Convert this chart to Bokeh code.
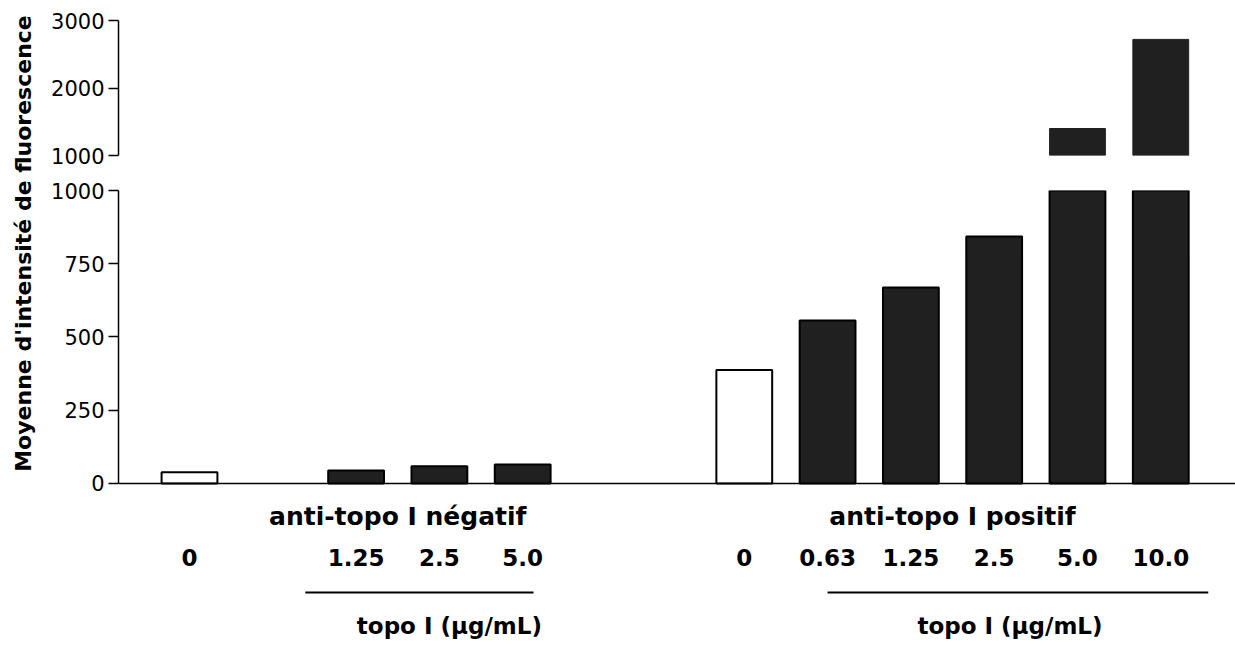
import numpy as np
from bokeh.plotting import figure
from bokeh.layouts import row, column
from bokeh.models import Range1d, FixedTicker, Span, ColumnDataSource
from bokeh.core.properties import value
from bokeh.embed import file_html
from bokeh.resources import INLINE

# ---------------- data ----------------
neg_labels = ["0", "1.25", "2.5", "5.0"]          # topo I (µg/mL), anti-topo I négatif
neg_slots = [0, 2, 3, 4]
neg_values = [38, 44, 59, 65]
pos_labels = ["0", "0.63", "1.25", "2.5", "5.0", "10.0"]  # anti-topo I positif
pos_slots = [0, 1, 2, 3, 4, 5]
pos_values = [387, 556, 669, 843, 1400, 2720]
group_names = ["anti-topo I négatif", "anti-topo I positif"]
axis_title = "Moyenne d'intensité de fluorescence"
dose_title = "topo I (μg/mL)"
lower_ticks = [0, 250, 500, 750, 1000]
upper_ticks = [1000, 2000, 3000]
BREAK = 1000

# ---------------- layout / style ----------------
FONT = "DejaVu Sans"
DARK = "#202020"
group_start = [1.0, 7.66]
bar_w = 0.67
dose_line = [(1.39, 4.13), (1.0, 5.57)]
dose_title_off = [3.12, 3.19]
GROUP_Y, NUM_Y, LINE_Y, DOSE_Y = -113, -252, -372, -485

xs, vals, labs, fills = [], [], [], []
for g, (labels, slots, values) in enumerate([(neg_labels, neg_slots, neg_values),
                                              (pos_labels, pos_slots, pos_values)]):
    for l, s, v in zip(labels, slots, values):
        xs.append(group_start[g] + s)
        vals.append(v)
        labs.append(l)
        fills.append("white" if l == "0" else DARK)
xs = np.array(xs); vals = np.array(vals, dtype=float)

x_range = Range1d(0.1477, 1 + (1235 - 189) / 83.3)


def style(p):
    p.outline_line_color = None
    p.grid.visible = False
    p.background_fill_color = "white"
    p.border_fill_color = "white"


def style_axis(ax, ticks, bounds):
    ax.ticker = FixedTicker(ticks=ticks)
    ax.bounds = bounds
    ax.minor_tick_line_color = None
    ax.major_tick_in = 0
    ax.major_tick_out = 10
    ax.major_tick_line_width = 1.5
    ax.axis_line_width = 1.5
    ax.axis_line_color = "black"
    ax.major_tick_line_color = "black"
    ax.major_label_text_font = FONT
    ax.major_label_text_font_size = "21px"
    ax.major_label_text_color = "black"
    ax.major_label_standoff = 4


# upper panel (values above the break)
up = figure(width=1197, height=167, x_range=x_range, y_range=Range1d(1000, 3000),
            output_backend="svg", toolbar_location=None, x_axis_location=None,
            min_border_left=80, min_border_right=0, min_border_top=20, min_border_bottom=12)
style(up)
style_axis(up.yaxis[0], upper_ticks, (1000, 3000))
m = vals > BREAK
up.vbar(x=xs[m], bottom=BREAK, top=vals[m], width=bar_w, fill_color=DARK, line_color=DARK)

# lower panel
lo = figure(width=1197, height=478, x_range=x_range, y_range=Range1d(-553, 1000),
            output_backend="svg", toolbar_location=None, x_axis_location=None,
            min_border_left=80, min_border_right=0, min_border_top=23, min_border_bottom=0)
style(lo)
style_axis(lo.yaxis[0], lower_ticks, (0, 1000))
src = ColumnDataSource(dict(x=xs, top=np.minimum(vals, BREAK), fill=fills, lab=labs))
lo.vbar(x="x", bottom=0, top="top", width=bar_w, fill_color="fill", line_color="black",
        line_width=2, source=src)
lo.add_layout(Span(location=0, dimension="width", line_color="black", line_width=1.5))

# numbers
lo.text(x="x", y=NUM_Y, text="lab", source=src, text_font=value(FONT), text_font_style="bold",
        text_font_size="23px", text_align="center", text_baseline="middle", text_color="black")
# group titles
gx = [s + 2.5 for s in group_start]
lo.text(x=gx, y=[GROUP_Y] * 2, text=group_names, text_font=value(FONT), text_font_style="bold",
        text_font_size="25px", text_align="center", text_baseline="middle", text_color="black")
# dose lines and titles
lo.segment(x0=[s + a for s, (a, b) in zip(group_start, dose_line)], y0=[LINE_Y] * 2,
           x1=[s + b for s, (a, b) in zip(group_start, dose_line)], y1=[LINE_Y] * 2,
           line_color="black", line_width=2)
lo.text(x=[s + o for s, o in zip(group_start, dose_title_off)], y=[DOSE_Y] * 2,
        text=[dose_title] * 2, text_font=value(FONT), text_font_style="bold",
        text_font_size="23px", text_align="center", text_baseline="middle", text_color="black")

# y-axis title spanning both panels
lab = figure(width=38, height=645, x_range=Range1d(0, 38), y_range=Range1d(0, 645),
             output_backend="svg", toolbar_location=None, x_axis_location=None,
             y_axis_location=None, min_border=0)
style(lab)
lab.text(x=[23], y=[402], text=[axis_title], angle=np.pi / 2, text_font=value(FONT),
         text_font_style="bold", text_font_size="22px", text_align="center",
         text_baseline="middle", text_color="black")

layout = row(lab, column(up, lo))
open("out.html", "w").write(file_html(layout, INLINE))
